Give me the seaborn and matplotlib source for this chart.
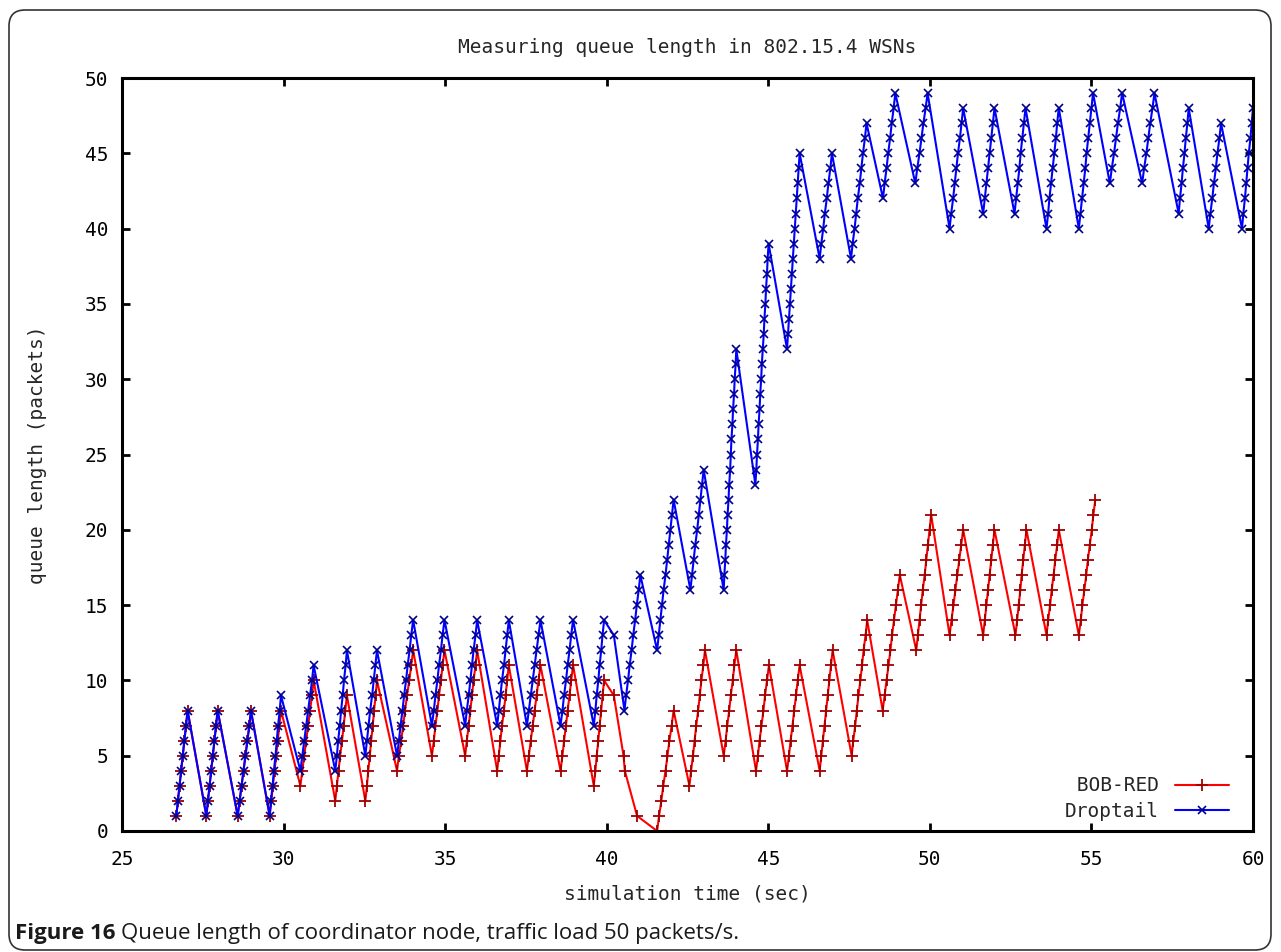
import numpy as np
import pandas as pd
import matplotlib.pyplot as plt
import matplotlib.patches as mpatches
from matplotlib.transforms import IdentityTransform
import seaborn as sns

# ── DATA ────────────────────────────────────────────────────
# Droptail: queue length samples (sec, packets)
droptail_time = [
    26.68, 26.73, 26.78, 26.83, 26.88, 26.93, 26.98, 27.03,
    27.61, 27.66, 27.71, 27.76, 27.81, 27.86, 27.91, 27.96,
    28.58, 28.64, 28.70, 28.76, 28.82, 28.88, 28.94, 28.99,
    29.57, 29.61, 29.66, 29.70, 29.75, 29.79, 29.83, 29.88, 29.92,
    30.52, 30.58, 30.64, 30.70, 30.76, 30.82, 30.88, 30.93,
    31.60, 31.65, 31.69, 31.74, 31.78, 31.83, 31.87, 31.92, 31.96,
    32.53, 32.58, 32.63, 32.68, 32.74, 32.79, 32.84, 32.89,
    33.51, 33.57, 33.62, 33.68, 33.73, 33.79, 33.84, 33.90, 33.95, 34.01,
    34.59, 34.65, 34.70, 34.76, 34.81, 34.87, 34.92, 34.98,
    35.62, 35.67, 35.73, 35.78, 35.83, 35.88, 35.94, 35.99,
    36.61, 36.66, 36.71, 36.76, 36.82, 36.87, 36.92, 36.97,
    37.53, 37.59, 37.65, 37.71, 37.77, 37.83, 37.89, 37.95,
    38.57, 38.63, 38.68, 38.74, 38.79, 38.85, 38.90, 38.96,
    39.60, 39.65, 39.69, 39.74, 39.78, 39.83, 39.87, 39.92, 40.22,
    40.55, 40.60, 40.66, 40.71, 40.77, 40.82, 40.88, 40.93, 40.99, 41.04,
    41.56, 41.61, 41.66, 41.71, 41.76, 41.82, 41.87, 41.92, 41.97, 42.02, 42.07,
    42.59, 42.64, 42.69, 42.74, 42.80, 42.85, 42.90, 42.95, 43.00,
    43.62, 43.64, 43.67, 43.69, 43.72, 43.74, 43.77, 43.79, 43.82, 43.84,
    43.86, 43.89, 43.91, 43.94, 43.96, 43.99, 44.01,
    44.60, 44.63, 44.65, 44.68, 44.70, 44.73, 44.75, 44.78, 44.80, 44.83,
    44.86, 44.88, 44.91, 44.93, 44.96, 44.98, 45.01,
    45.58, 45.61, 45.64, 45.67, 45.70, 45.73, 45.76, 45.79, 45.82, 45.85,
    45.88, 45.91, 45.94, 45.97,
    46.59, 46.64, 46.70, 46.75, 46.81, 46.86, 46.92, 46.97,
    47.56, 47.61, 47.67, 47.72, 47.77, 47.83, 47.88, 47.93, 47.99, 48.04,
    48.55, 48.60, 48.66, 48.71, 48.77, 48.82, 48.88, 48.93,
    49.55, 49.61, 49.68, 49.74, 49.80, 49.87, 49.93,
    50.61, 50.66, 50.72, 50.77, 50.82, 50.87, 50.93, 50.98, 51.03,
    51.65, 51.70, 51.75, 51.80, 51.85, 51.90, 51.95, 52.00,
    52.62, 52.67, 52.72, 52.77, 52.81, 52.86, 52.91, 52.96,
    53.61, 53.66, 53.70, 53.75, 53.80, 53.85, 53.90, 53.94, 53.99,
    54.61, 54.66, 54.71, 54.76, 54.81, 54.85, 54.90, 54.95, 55.00, 55.05,
    55.57, 55.63, 55.70, 55.76, 55.82, 55.89, 55.95,
    56.57, 56.63, 56.70, 56.76, 56.82, 56.89, 56.95,
    57.70, 57.74, 57.79, 57.83, 57.88, 57.92, 57.97, 58.01,
    58.63, 58.68, 58.74, 58.79, 58.85, 58.90, 58.96, 59.01,
    59.66, 59.70, 59.75, 59.79, 59.83, 59.87, 59.92, 59.96, 60.00,
]
droptail_queue = [
    1, 2, 3, 4, 5, 6, 7, 8,
    1, 2, 3, 4, 5, 6, 7, 8,
    1, 2, 3, 4, 5, 6, 7, 8,
    1, 2, 3, 4, 5, 6, 7, 8, 9,
    4, 5, 6, 7, 8, 9, 10, 11,
    4, 5, 6, 7, 8, 9, 10, 11, 12,
    5, 6, 7, 8, 9, 10, 11, 12,
    5, 6, 7, 8, 9, 10, 11, 12, 13, 14,
    7, 8, 9, 10, 11, 12, 13, 14,
    7, 8, 9, 10, 11, 12, 13, 14,
    7, 8, 9, 10, 11, 12, 13, 14,
    7, 8, 9, 10, 11, 12, 13, 14,
    7, 8, 9, 10, 11, 12, 13, 14,
    7, 8, 9, 10, 11, 12, 13, 14, 13,
    8, 9, 10, 11, 12, 13, 14, 15, 16, 17,
    12, 13, 14, 15, 16, 17, 18, 19, 20, 21, 22,
    16, 17, 18, 19, 20, 21, 22, 23, 24,
    16, 17, 18, 19, 20, 21, 22, 23, 24, 25,
    26, 27, 28, 29, 30, 31, 32,
    23, 24, 25, 26, 27, 28, 29, 30, 31, 32,
    33, 34, 35, 36, 37, 38, 39,
    32, 33, 34, 35, 36, 37, 38, 39, 40, 41,
    42, 43, 44, 45,
    38, 39, 40, 41, 42, 43, 44, 45,
    38, 39, 40, 41, 42, 43, 44, 45, 46, 47,
    42, 43, 44, 45, 46, 47, 48, 49,
    43, 44, 45, 46, 47, 48, 49,
    40, 41, 42, 43, 44, 45, 46, 47, 48,
    41, 42, 43, 44, 45, 46, 47, 48,
    41, 42, 43, 44, 45, 46, 47, 48,
    40, 41, 42, 43, 44, 45, 46, 47, 48,
    40, 41, 42, 43, 44, 45, 46, 47, 48, 49,
    43, 44, 45, 46, 47, 48, 49,
    43, 44, 45, 46, 47, 48, 49,
    41, 42, 43, 44, 45, 46, 47, 48,
    40, 41, 42, 43, 44, 45, 46, 47,
    40, 41, 42, 43, 44, 45, 46, 47, 48,
]

# BOB-RED: queue length samples (sec, packets)
bobred_time = [
    26.68, 26.73, 26.78, 26.83, 26.88, 26.93, 26.98, 27.03,
    27.61, 27.66, 27.71, 27.76, 27.81, 27.86, 27.91, 27.96,
    28.58, 28.64, 28.70, 28.76, 28.82, 28.88, 28.94, 28.99,
    29.57, 29.62, 29.67, 29.72, 29.77, 29.82, 29.87, 29.92,
    30.52, 30.58, 30.64, 30.70, 30.76, 30.82, 30.88, 30.93,
    31.60, 31.65, 31.70, 31.75, 31.81, 31.86, 31.91, 31.96,
    32.53, 32.58, 32.62, 32.67, 32.71, 32.76, 32.80, 32.85, 32.89,
    33.51, 33.57, 33.64, 33.70, 33.76, 33.82, 33.89, 33.95, 34.01,
    34.59, 34.65, 34.70, 34.76, 34.81, 34.87, 34.92, 34.98,
    35.62, 35.67, 35.73, 35.78, 35.83, 35.88, 35.94, 35.99,
    36.61, 36.66, 36.71, 36.76, 36.82, 36.87, 36.92, 36.97,
    37.53, 37.59, 37.65, 37.71, 37.77, 37.83, 37.89, 37.95,
    38.57, 38.63, 38.68, 38.74, 38.79, 38.85, 38.90, 38.96,
    39.60, 39.65, 39.69, 39.74, 39.78, 39.83, 39.87, 39.92,
    40.22, 40.52, 40.56, 40.94,
    41.56, 41.62, 41.69, 41.75, 41.82, 41.88, 41.94, 42.01, 42.07,
    42.56, 42.61, 42.67, 42.72, 42.77, 42.83, 42.88, 42.93, 42.99, 43.04,
    43.62, 43.68, 43.73, 43.79, 43.84, 43.90, 43.95, 44.01,
    44.62, 44.68, 44.73, 44.79, 44.85, 44.90, 44.96, 45.02,
    45.58, 45.64, 45.69, 45.75, 45.80, 45.86, 45.91, 45.97,
    46.59, 46.64, 46.69, 46.74, 46.79, 46.84, 46.89, 46.94, 46.99,
    47.58, 47.63, 47.69, 47.74, 47.79, 47.85, 47.90, 47.95, 48.01, 48.06,
    48.54, 48.60, 48.66, 48.72, 48.78, 48.83, 48.89, 48.95, 49.01, 49.07,
    49.58, 49.63, 49.68, 49.73, 49.78, 49.84, 49.89, 49.94, 49.99, 50.04,
    50.61, 50.67, 50.73, 50.79, 50.85, 50.91, 50.97, 51.03,
    51.65, 51.70, 51.75, 51.80, 51.85, 51.90, 51.95, 52.00,
    52.65, 52.70, 52.75, 52.80, 52.84, 52.89, 52.94, 52.99,
    53.61, 53.66, 53.72, 53.77, 53.83, 53.88, 53.94, 53.99,
    54.61, 54.67, 54.72, 54.78, 54.84, 54.89, 54.95, 55.01, 55.06, 55.12,
]
bobred_queue = [
    1, 2, 3, 4, 5, 6, 7, 8,
    1, 2, 3, 4, 5, 6, 7, 8,
    1, 2, 3, 4, 5, 6, 7, 8,
    1, 2, 3, 4, 5, 6, 7, 8,
    3, 4, 5, 6, 7, 8, 9, 10,
    2, 3, 4, 5, 6, 7, 8, 9,
    2, 3, 4, 5, 6, 7, 8, 9, 10,
    4, 5, 6, 7, 8, 9, 10, 11, 12,
    5, 6, 7, 8, 9, 10, 11, 12,
    5, 6, 7, 8, 9, 10, 11, 12,
    4, 5, 6, 7, 8, 9, 10, 11,
    4, 5, 6, 7, 8, 9, 10, 11,
    4, 5, 6, 7, 8, 9, 10, 11,
    3, 4, 5, 6, 7, 8, 9, 10,
    9, 5, 4, 1,
    0, 1, 2, 3, 4, 5, 6, 7, 8,
    3, 4, 5, 6, 7, 8, 9, 10, 11, 12,
    5, 6, 7, 8, 9, 10, 11, 12,
    4, 5, 6, 7, 8, 9, 10, 11,
    4, 5, 6, 7, 8, 9, 10, 11,
    4, 5, 6, 7, 8, 9, 10, 11, 12,
    5, 6, 7, 8, 9, 10, 11, 12, 13, 14,
    8, 9, 10, 11, 12, 13, 14, 15, 16, 17,
    12, 13, 14, 15, 16, 17, 18, 19, 20, 21,
    13, 14, 15, 16, 17, 18, 19, 20,
    13, 14, 15, 16, 17, 18, 19, 20,
    13, 14, 15, 16, 17, 18, 19, 20,
    13, 14, 15, 16, 17, 18, 19, 20,
    13, 14, 15, 16, 17, 18, 19, 20, 21, 22,
]

x_ticks = [25, 30, 35, 40, 45, 50, 55, 60]
y_ticks = [0, 5, 10, 15, 20, 25, 30, 35, 40, 45, 50]

red_df = pd.DataFrame({"time": bobred_time, "queue": bobred_queue})
drop_df = pd.DataFrame({"time": droptail_time, "queue": droptail_queue})

# ── STYLE ───────────────────────────────────────────────────
sns.set_style("ticks")
mono = ["DejaVu Sans Mono"]
plt.rcParams["font.family"] = mono

W, H = 1281, 952
fig = plt.figure(figsize=(W / 100, H / 100), dpi=100)
ax = fig.add_axes([122 / W, 1 - 831 / H, 1131 / W, 753 / H])

# ── LINES ───────────────────────────────────────────────────
sns.lineplot(data=red_df, x="time", y="queue", ax=ax, sort=False,
             estimator=None, color="#ff0000", linewidth=1.5,
             marker="+", markersize=8, markeredgewidth=1.3,
             markeredgecolor="#a00000", label=" BOB-RED")
sns.lineplot(data=drop_df, x="time", y="queue", ax=ax, sort=False,
             estimator=None, color="#0000ff", linewidth=1.5,
             marker="x", markersize=6, markeredgewidth=1.2,
             markeredgecolor="#000090", label="Droptail")

ax.set_xlim(25, 60)
ax.set_ylim(0, 50)
ax.set_xticks(x_ticks)
ax.set_yticks(y_ticks)
ax.tick_params(direction="in", length=6, width=2, labelsize=14,
               top=True, right=True, colors="black")
ax.tick_params(axis="x", pad=14)
ax.tick_params(axis="y", pad=10)
for sp in ax.spines.values():
    sp.set_visible(True)
    sp.set_linewidth(2.2)
    sp.set_color("black")

ax.set_title("Measuring queue length in 802.15.4 WSNs", fontsize=14, pad=18)
ax.set_xlabel("simulation time (sec)", fontsize=14)
ax.set_ylabel("queue length (packets)", fontsize=14)
ax.xaxis.set_label_coords(0.5, -0.071)
ax.yaxis.set_label_coords(-0.066, 0.5)

leg = ax.legend(loc="lower right", bbox_to_anchor=(0.979, 0.013),
                frameon=False, markerfirst=False, fontsize=14,
                handlelength=2.8, handletextpad=0.8, labelspacing=0.35,
                borderpad=0, borderaxespad=0)

# ── FRAME + CAPTION ─────────────────────────────────────────
frame = mpatches.FancyBboxPatch((9, 2), 1262, 940,
                                boxstyle="round,pad=0,rounding_size=16",
                                transform=IdentityTransform(),
                                facecolor="none", edgecolor="#333333",
                                linewidth=1.2)
fig.add_artist(frame)

cap_font = ["Open Sans", "DejaVu Sans"]
t1 = fig.text(15 / W, 1 - 934 / H, "Figure 16", fontsize=16,
              fontweight="bold", family=cap_font, color="#1a1a1a",
              va="center", ha="left")
fig.canvas.draw()
bb = t1.get_window_extent(renderer=fig.canvas.get_renderer())
fig.text((bb.x1 + 6) / W, 1 - 934 / H,
         "Queue length of coordinator node, traffic load 50 packets/s.",
         fontsize=16, family=cap_font, color="#1a1a1a",
         va="center", ha="left")

fig.savefig("out.png", dpi=100)
